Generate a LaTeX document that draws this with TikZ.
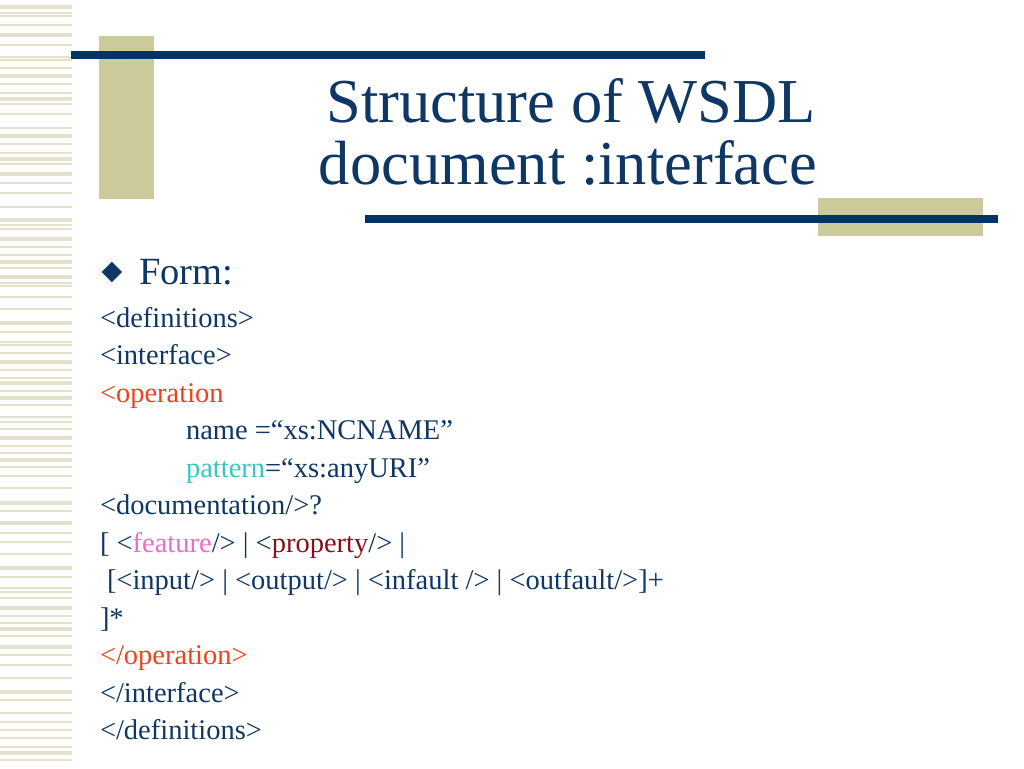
\documentclass[tikz,border=0pt]{standalone}
\usepackage{fontspec}
\setmainfont{Liberation Serif}
\newfontfamily\symfont{DejaVu Sans}
\definecolor{navy}{HTML}{0E3766}
\definecolor{barblue}{HTML}{003366}
\definecolor{khaki}{HTML}{CBCA9B}
\definecolor{stripe}{HTML}{E4E2CD}
\definecolor{opred}{HTML}{F0421A}
\definecolor{teal}{HTML}{3CC4C4}
\definecolor{pinky}{HTML}{F06ACB}
\definecolor{propred}{HTML}{8A0F1E}
\begin{document}
\begin{tikzpicture}[x=1pt, y=-1pt, every node/.style={inner sep=0pt, outer sep=0pt, anchor=base west, text=navy}, body/.style={font=\fontsize{28.5}{30}\selectfont}, title/.style={font=\fontsize{62.5}{64}\selectfont, anchor=base}]
    \useasboundingbox[fill=white] (0,0) rectangle (1024,768);
    % left stripe
    \foreach \y/\w in {7/3.5, 13/1.5, 16/1.5, 25/1.5, 35/3.5, 45/1.5, 57/1.5, 60/1.5, 68/1.5, 76/3.5, 84/1.5, 93/1.5, 99/3.5, 104/1.5, 114/1.5, 128/1.5, 136/3.5, 144/1.5, 153/1.5, 159/3.5, 164/1.5, 174/3.5, 183/1.5, 193/1.5, 207/1.5, 220/3.5, 225/1.5, 229/1.5, 239/3.5, 247/1.5, 255/1.5, 262/3.5, 268/1.5, 277/3.5, 283/1.5, 286/1.5, 297/1.5, 309/1.5, 323/3.5, 332/1.5, 342/1.5, 345/1.5, 353/1.5, 362/3.5, 370/1.5, 378/1.5, 383/3.5, 391/1.5, 398/3.5, 405/1.5, 417/1.5, 422/1.5, 429/1.5, 438/3.5, 446/1.5, 453/1.5, 460/3.5, 467/1.5, 476/1.5, 488/1.5, 503/3.5, 511/1.5, 523/3.5, 533/1.5, 542/1.5, 554/1.5, 568/3.5, 577/1.5, 588/1.5, 592/1.5, 598/1.5, 608/3.5, 616/1.5, 623/1.5, 629/3.5, 636/1.5, 647/3.5, 655/1.5, 665/1.5, 678/1.5, 692/3.5, 700/1.5, 713/1.5, 722/1.5, 730/1.5, 738/1.5, 747/1.5, 753/3.5, 760/1.5}
        \draw[stripe, line width=\w pt] (0,\y) -- (72,\y);
    % title bars
    \fill[khaki] (99,36) rectangle (154,199);
    \fill[barblue] (71,51) rectangle (705,59);
    \fill[khaki] (818,198) rectangle (983,236);
    \fill[barblue] (365,215) rectangle (998,223);
    % title
    \node[title] (title1) at (571,122) {Structure of WSDL};
    \node[title] (title2) at (568,184) {document :interface};
    % bullet
    \node[font=\symfont\fontsize{27}{28}\selectfont, anchor=center] (bullet) at (112,272) {◆};
    \node[font=\fontsize{38.5}{40}\selectfont] (form) at (139,284) {Form:};
    % code lines
    \node[body] (defs) at (100,327) {<definitions>};
    \node[body] (iface) at (100,364.5) {<interface>};
    \node[body, text=opred] (op) at (100,402) {<operation};
    \node[body] (name) at (186,439.5) {name =“xs:NCNAME”};
    \node[body] (pat) at (186,477) {\textcolor{teal}{pattern}=“xs:anyURI”};
    \node[body] (doc) at (100,514.5) {<documentation/>?};
    \node[body] (feat) at (100,552) {[ <\textcolor{pinky}{feature}/> | <\textcolor{propred}{property}/> |};
    \node[body] (msgs) at (107,589.5) {[<input/> | <output/> | <infault /> | <outfault/>]+};
    \node[body] (star) at (100,627) {]*};
    \node[body, text=opred] (opend) at (100,664.5) {</operation>};
    \node[body] (ifaceend) at (100,702) {</interface>};
    \node[body] (defsend) at (100,739.5) {</definitions>};
\end{tikzpicture}
\end{document}
